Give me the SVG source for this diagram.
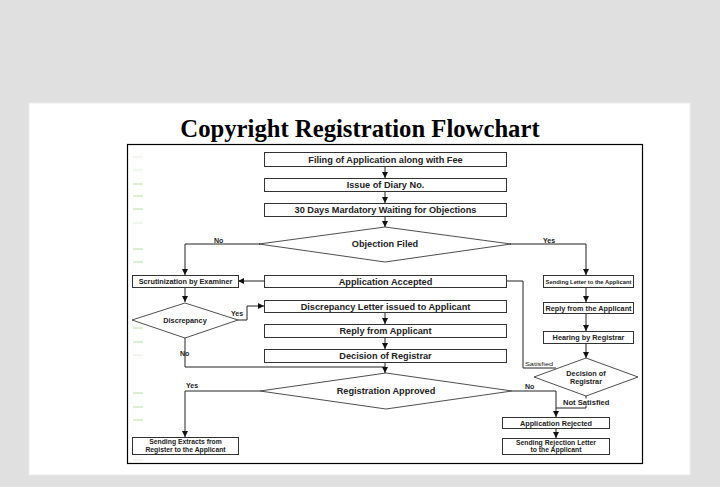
<svg xmlns="http://www.w3.org/2000/svg" width="720" height="487" viewBox="0 0 720 487">
<defs>
<marker id="ah" markerWidth="6" markerHeight="6" refX="6" refY="3" orient="auto" markerUnits="userSpaceOnUse">
<path d="M0,0 L6,3 L0,6 z" fill="#111"/>
</marker>
<style>
.box{fill:#fff;stroke:#333;stroke-width:1}
.dia{fill:#fff;stroke:#222;stroke-width:0.8}
.t{font-family:"Liberation Sans",Arial,sans-serif;font-weight:bold;fill:#222;text-anchor:middle}
.m{font-size:9.2px}
.s{font-size:7.3px}
.s2{font-size:6.8px}
.lbl{font-family:"Liberation Sans",Arial,sans-serif;font-weight:bold;fill:#222;font-size:7px}
.c{fill:none;stroke:#222;stroke-width:1}
.a{marker-end:url(#ah)}
.g{stroke:#b8e2a8;stroke-width:1}
</style>
</defs>
<rect x="0" y="0" width="720" height="487" fill="#e0e0e0"/>
<rect x="29" y="103" width="661" height="372" fill="#fff" stroke="#ebebeb" stroke-width="1"/>
<text x="360" y="137" font-family="'Liberation Serif','Times New Roman',serif" font-weight="bold" font-size="24.7" text-anchor="middle" fill="#000">Copyright Registration Flowchart</text>
<rect x="127.5" y="144.5" width="515" height="319" fill="#fff" stroke="#000" stroke-width="1.2"/>
<g id="marks">
<line class="g" x1="133" y1="157" x2="143" y2="157" opacity="0.4"/>
<line class="g" x1="133" y1="170" x2="143" y2="170" opacity="0.4"/>
<line class="g" x1="133" y1="184" x2="143" y2="184"/>
<line class="g" x1="133" y1="196" x2="143" y2="196"/>
<line class="g" x1="133" y1="209" x2="143" y2="209"/>
<line class="g" x1="133" y1="223" x2="143" y2="223" opacity="0.4"/>
<line class="g" x1="133" y1="249" x2="143" y2="249"/>
<line class="g" x1="133" y1="262" x2="143" y2="262"/>
<line class="g" x1="133" y1="328" x2="143" y2="328"/>
<line class="g" x1="133" y1="342" x2="143" y2="342"/>
<line class="g" x1="133" y1="355" x2="143" y2="355" opacity="0.4"/>
<line class="g" x1="133" y1="393" x2="143" y2="393"/>
<line class="g" x1="133" y1="407" x2="143" y2="407"/>
<line class="g" x1="133" y1="420" x2="143" y2="420"/>
<line class="g" x1="133" y1="460" x2="143" y2="460" opacity="0.4"/>
</g>
<g id="connectors">
<path class="c a" d="M385,166 V178"/>
<path class="c a" d="M385,191 V203"/>
<path class="c a" d="M385,216 V227"/>
<path class="c a" d="M260,244 H185 V275"/>
<path class="c a" d="M510,244 H586 V275"/>
<path class="c a" d="M264,281 H238"/>
<path class="c" d="M506,281 H523 V368 H556"/>
<path class="c a" d="M586,287 V302"/>
<path class="c a" d="M586,313 V331"/>
<path class="c a" d="M586,343 V358"/>
<path class="c a" d="M185,287 V302"/>
<path class="c a" d="M238,320 H247 V306 H264"/>
<path class="c a" d="M385,312 V324"/>
<path class="c a" d="M385,337 V349"/>
<path class="c" d="M185,338 V367 H385"/>
<path class="c a" d="M385,362 V373"/>
<path class="c a" d="M260,391 H185 V437"/>
<path class="c a" d="M512,391 H556 V417"/>
<path class="c" d="M586,396 V408 H556"/>
<path class="c a" d="M556,428 V438"/>
<text class="lbl" x="214" y="243">No</text>
<text class="lbl" x="543" y="243">Yes</text>
<text class="lbl" x="231" y="316">Yes</text>
<text class="lbl" x="180" y="356">No</text>
<text class="lbl" x="186" y="388">Yes</text>
<text class="lbl" x="525" y="389">No</text>
<text class="lbl" x="525" y="366" style="font-size:6px;font-weight:normal" textLength="28" lengthAdjust="spacingAndGlyphs">Satisfied</text>
<rect x="562" y="398.5" width="50" height="7" fill="#fff"/>
<text class="lbl" x="563" y="404.5" style="font-size:7.6px">Not Satisfied</text>
</g>
<g id="n1"><rect class="box" x="264.5" y="152.5" width="242" height="14"/><text class="t m" x="385.5" y="162.8">Filing of Application along with Fee</text></g>
<g id="n2"><rect class="box" x="264.5" y="178.5" width="242" height="13"/><text class="t m" x="385.5" y="188.3">Issue of Diary No.</text></g>
<g id="n3"><rect class="box" x="264.5" y="203.5" width="242" height="13"/><text class="t m" x="385.5" y="213.3">30 Days Mardatory Waiting for Objections</text></g>
<g id="d1"><polygon class="dia" points="385,227 511,244 385,262 259,244"/><text class="t m" x="385" y="247.3">Objection Filed</text></g>
<g id="n4"><rect class="box" x="132.5" y="275.5" width="106" height="12"/><text class="t s" x="185.5" y="284.2">Scrutinization by Examiner</text></g>
<g id="n5"><rect class="box" x="264.5" y="275.5" width="242" height="12"/><text class="t m" x="385.5" y="284.8">Application Accepted</text></g>
<g id="n6"><rect class="box" x="543.5" y="275.5" width="90" height="12"/><text class="t" x="588.5" y="283.8" style="font-size:5.8px">Sending Letter to the Applicant</text></g>
<g id="d2"><polygon class="dia" points="185,303 238,320 185,338 132,320"/><text class="t s" x="185" y="323">Discrepancy</text></g>
<g id="n7"><rect class="box" x="264.5" y="300.5" width="242" height="12"/><text class="t m" x="385.5" y="309.8">Discrepancy Letter issued to Applicant</text></g>
<g id="n8"><rect class="box" x="543.5" y="302.5" width="90" height="11"/><text class="t s" x="588.5" y="310.7">Reply from the Applicant</text></g>
<g id="n9"><rect class="box" x="264.5" y="324.5" width="242" height="13"/><text class="t m" x="385.5" y="334.3">Reply from Applicant</text></g>
<g id="n10"><rect class="box" x="543.5" y="331.5" width="90" height="12"/><text class="t s" x="588.5" y="340.2">Hearing by Registrar</text></g>
<g id="n11"><rect class="box" x="264.5" y="349.5" width="242" height="13"/><text class="t m" x="385.5" y="359.3">Decision of Registrar</text></g>
<g id="d3"><polygon class="dia" points="586,358 638,377 586,396 534,377"/><text class="t s" x="586" y="376">Decision of</text><text class="t s" x="586" y="384">Registrar</text></g>
<g id="d4"><polygon class="dia" points="386,373 512,391 386,409 260,391"/><text class="t m" x="386" y="394.3">Registration Approved</text></g>
<g id="n12"><rect class="box" x="502.5" y="417.5" width="107" height="11"/><text class="t s" x="556" y="425.7">Application Rejected</text></g>
<g id="n13"><rect class="box" x="502.5" y="438.5" width="107" height="16"/><text class="t s2" x="556" y="444.6">Sending Rejection Letter</text><text class="t s2" x="556" y="452.4">to the Applicant</text></g>
<g id="n14"><rect class="box" x="132.5" y="437.5" width="106" height="17"/><text class="t s2" x="185.5" y="444.1">Sending Extracts from</text><text class="t s2" x="185.5" y="451.9">Register to the Applicant</text></g>
</svg>
